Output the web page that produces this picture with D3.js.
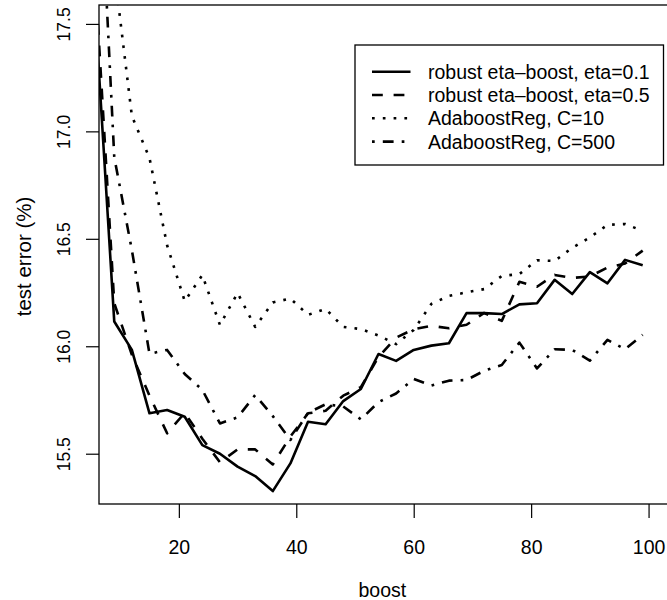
<!DOCTYPE html>
<html><head><meta charset="utf-8">
<script src="https://cdn.jsdelivr.net/npm/d3@7"></script>
<style>
html,body{margin:0;padding:0;background:#fff;}
svg{display:block;font-family:"Liberation Sans",Arial,Helvetica,sans-serif;}
</style></head>
<body>
<svg id="chart" width="667" height="600"></svg>
<script>
const boostSteps = [6,9,12,15,18,21,24,27,30,33,36,39,42,45,48,51,54,57,60,63,66,69,72,75,78,81,84,87,90,93,96,99];
const etaBoost01 = [17.45,16.115,15.983,15.688,15.703,15.672,15.54,15.50,15.44,15.396,15.326,15.455,15.649,15.637,15.745,15.801,15.964,15.932,15.983,16.003,16.014,16.154,16.154,16.150,16.195,16.200,16.309,16.243,16.345,16.293,16.402,16.377];
const etaBoost05 = [17.6,16.2,15.96,15.77,15.595,15.69,15.57,15.46,15.52,15.52,15.45,15.58,15.688,15.70,15.77,15.81,15.95,16.04,16.079,16.095,16.084,16.10,16.155,16.118,16.30,16.277,16.332,16.318,16.325,16.366,16.385,16.445];
const adaRegC10 = [18.6,17.75,17.071,16.876,16.47,16.21,16.331,16.099,16.248,16.09,16.204,16.222,16.146,16.174,16.09,16.08,16.05,16.01,16.076,16.197,16.234,16.251,16.266,16.327,16.336,16.40,16.397,16.458,16.506,16.565,16.569,16.537];
const adaRegC500 = [18.55,16.88,16.447,15.965,15.983,15.871,15.797,15.641,15.669,15.773,15.675,15.564,15.69,15.73,15.72,15.66,15.74,15.78,15.848,15.817,15.84,15.843,15.886,15.913,16.017,15.897,15.986,15.983,15.933,16.03,15.986,16.053];
const seriesNames = ["robust eta\u2013boost, eta=0.1","robust eta\u2013boost, eta=0.5","AdaboostReg, C=10","AdaboostReg, C=500"];
const xTicks = [20,40,60,80,100];
const yTicks = [15.5,16.0,16.5,17.0,17.5];
const xLabel = "boost";
const yLabel = "test error (%)";

const svg = d3.select("#chart");
const plot = {left:99, right:669.7, top:5, bottom:504};
const x = d3.scaleLinear().domain([6.4,103.6]).range([plot.left, plot.right]);
const y = d3.scaleLinear().domain([15.266,17.588]).range([plot.bottom, plot.top]);

const lw = 2.6;
const dashes = [null, "10.8,10.8", "2.7,8.1", "2.7,8.1,10.8,8.1"];
const allSeries = [etaBoost01, etaBoost05, adaRegC10, adaRegC500];

svg.append("defs").append("clipPath").attr("id","clip")
  .append("rect").attr("x",plot.left).attr("y",plot.top)
  .attr("width",plot.right-plot.left).attr("height",plot.bottom-plot.top);

const line = d3.line().x((d,i)=>x(boostSteps[i])).y(d=>y(d));
const g = svg.append("g").attr("clip-path","url(#clip)");
allSeries.forEach((s,k)=>{
  g.append("path").datum(s).attr("d",line)
    .attr("fill","none").attr("stroke","#000").attr("stroke-width",lw)
    .attr("stroke-dasharray",dashes[k]).attr("stroke-linejoin","round");
});

// box
svg.append("rect").attr("x",plot.left).attr("y",plot.top)
  .attr("width",plot.right-plot.left).attr("height",plot.bottom-plot.top)
  .attr("fill","none").attr("stroke","#000").attr("stroke-width",1.3);

// x axis
const xAxis = d3.axisBottom(x).tickValues(xTicks).tickSize(14).tickFormat(d3.format("d"));
const gx = svg.append("g").attr("transform",`translate(0,${plot.bottom})`).call(xAxis);
gx.select(".domain").remove();
gx.selectAll("line").attr("stroke","#000").attr("stroke-width",1.2);
gx.selectAll("text").attr("font-size",19.5).attr("fill","#000").attr("dy","0.71em").attr("y",36);

// y axis
const yAxis = d3.axisLeft(y).tickValues(yTicks).tickSize(13).tickFormat(d3.format(".1f"));
const gy = svg.append("g").attr("transform",`translate(${plot.left},0)`).call(yAxis);
gy.select(".domain").remove();
gy.selectAll("line").attr("stroke","#000").attr("stroke-width",1.2);
gy.selectAll("text").attr("font-size",17.5).attr("fill","#000")
  .attr("x",null).attr("dy",null)
  .attr("text-anchor","middle")
  .attr("transform",d=>`translate(${-29},${0}) rotate(-90)`);

svg.append("text").attr("x",(plot.left+plot.right)/2-2).attr("y",597)
  .attr("text-anchor","middle").attr("font-size",19.5).attr("fill","#000").text(xLabel);
svg.append("text").attr("transform",`translate(31,${(plot.top+plot.bottom)/2+2}) rotate(-90)`)
  .attr("text-anchor","middle").attr("font-size",20.5).attr("fill","#000").text(yLabel);

// legend
const lg = svg.append("g");
lg.append("rect").attr("x",355).attr("y",45).attr("width",308.5).attr("height",120)
  .attr("fill","#fff").attr("stroke","#000").attr("stroke-width",1.3);
seriesNames.forEach((nm,k)=>{
  const cy = 71.7 + k*23.3;
  lg.append("line").attr("x1",372).attr("x2",410.5).attr("y1",cy).attr("y2",cy)
    .attr("stroke","#000").attr("stroke-width",lw).attr("stroke-dasharray",dashes[k]);
  lg.append("text").attr("x",428).attr("y",cy+7).attr("font-size",19.5).attr("fill","#000").text(nm);
});
</script>
</body></html>
